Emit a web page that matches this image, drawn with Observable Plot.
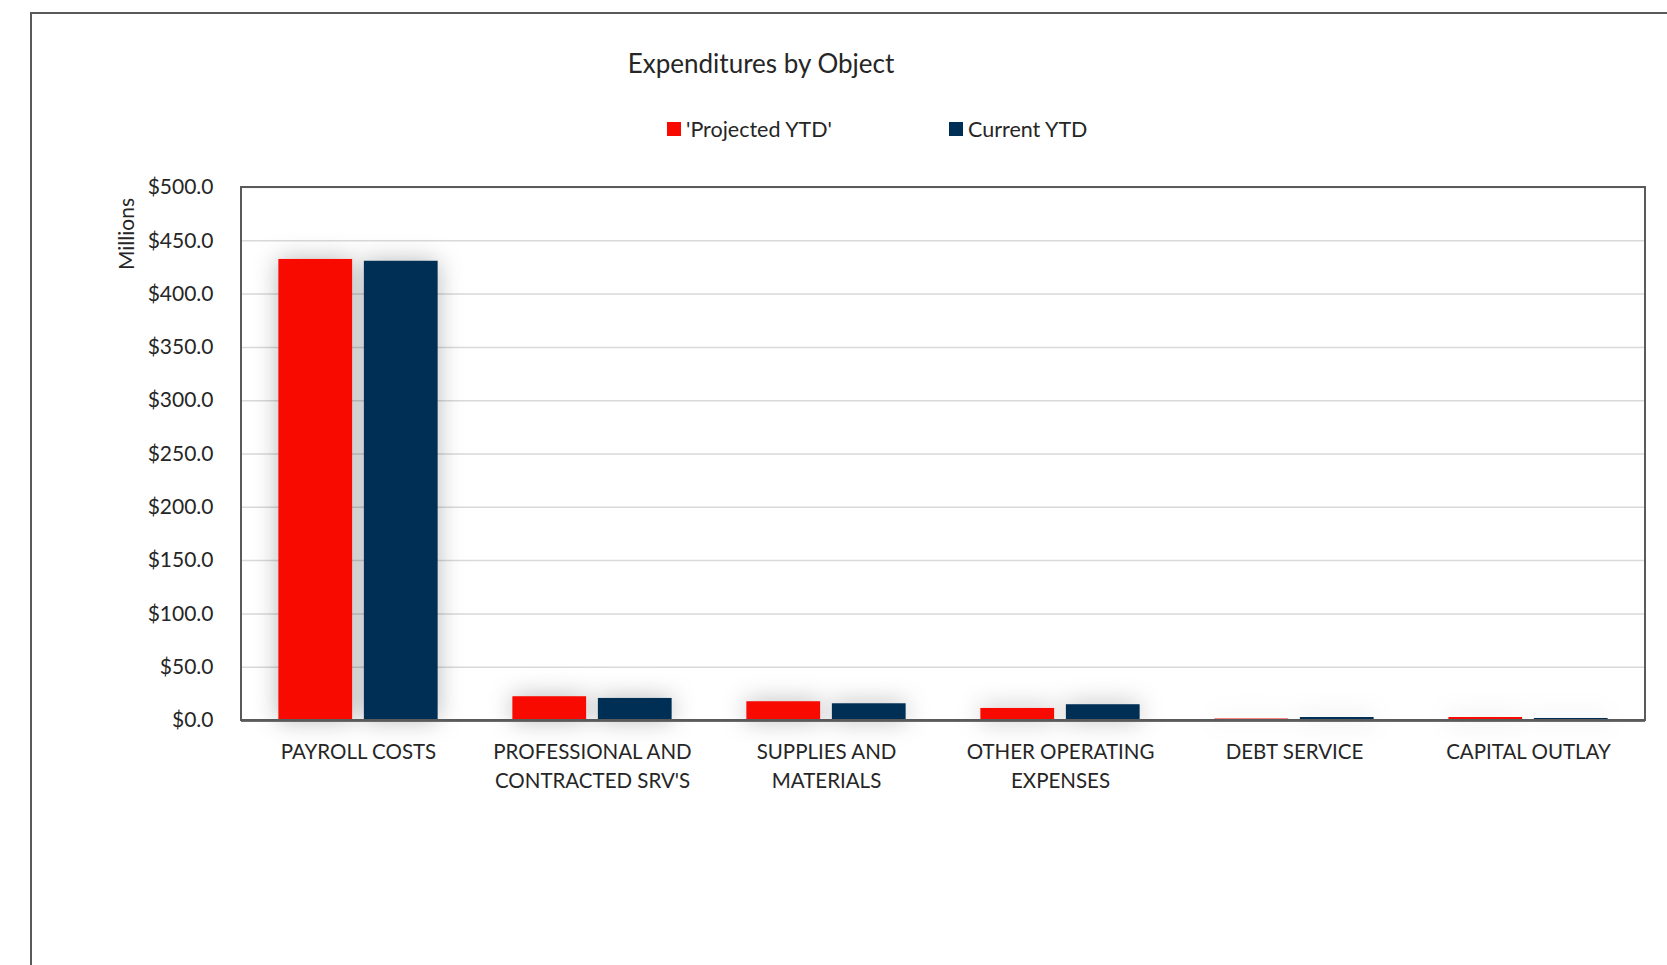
<!DOCTYPE html>
<html>
<head>
<meta charset="utf-8">
<script src="https://cdn.jsdelivr.net/npm/d3@7"></script>
<script src="https://cdn.jsdelivr.net/npm/@observablehq/plot@0.6"></script>
<style>
  html, body { margin: 0; padding: 0; background: #fff; }
  body { width: 1667px; height: 965px; overflow: hidden; position: relative; font-family: Lato, "DejaVu Sans", sans-serif; color: #262626; }
  #outer { position: absolute; left: 30px; top: 12px; width: 1700px; height: 1000px; border: 2px solid #5a5a5a; box-sizing: border-box; }
  #title { position: absolute; left: 0; width: 1522px; top: 47px; text-align: center; font-size: 26px; color: #262626; }
  #legend { position: absolute; top: 116px; left: 0; width: 1667px; height: 26px; font-size: 21.5px; color: #262626; }
  .lg { position: absolute; top: 0; display: flex; align-items: center; height: 26px; }
  .sw { width: 14px; height: 14px; margin-right: 5px; }
  #ylabel { position: absolute; left: 125px; top: 234px; transform: translate(-50%, -50%) rotate(-90deg); font-size: 21px; white-space: nowrap; color: #262626; }
  #chart { position: absolute; left: 0; top: 150px; }
</style>
</head>
<body>
<div id="outer"></div>
<div id="title">Expenditures by Object</div>
<div id="legend"></div>
<div id="ylabel">Millions</div>
<div id="chart"></div>
<script>
const categories = ["PAYROLL COSTS", "PROFESSIONAL AND CONTRACTED SRV'S", "SUPPLIES AND MATERIALS", "OTHER OPERATING EXPENSES", "DEBT SERVICE", "CAPITAL OUTLAY"];
const categoryLabels = ["PAYROLL COSTS", "PROFESSIONAL AND\nCONTRACTED SRV'S", "SUPPLIES AND\nMATERIALS", "OTHER OPERATING\nEXPENSES", "DEBT SERVICE", "CAPITAL OUTLAY"];
const seriesNames = ["'Projected YTD'", "Current YTD"];
const projectedYTD = [432.5, 22.3, 17.6, 11.3, 1.4, 2.8];
const currentYTD = [430.8, 20.7, 15.7, 14.8, 2.8, 1.9];
const seriesColors = ["#f80a00", "#002f55"];
const yTicks = [0, 50, 100, 150, 200, 250, 300, 350, 400, 450, 500];

const data = [];
categories.forEach((c, i) => {
  data.push({category: c, series: seriesNames[0], value: projectedYTD[i]});
  data.push({category: c, series: seriesNames[1], value: currentYTD[i]});
});

// legend
const legend = document.getElementById("legend");
const legendX = [667, 949];
seriesNames.forEach((s, i) => {
  const d = document.createElement("div");
  d.className = "lg";
  d.style.left = legendX[i] + "px";
  d.innerHTML = `<div class="sw" style="background:${seriesColors[i]}"></div><span></span>`;
  d.querySelector("span").textContent = s;
  legend.appendChild(d);
});

const W = 1667, H = 670;
const mL = 241, mR = 22, mT = 37, mB = 100;
const labelMap = new Map(categories.map((c, i) => [c, categoryLabels[i]]));

const plot = Plot.plot({
  width: W,
  height: H,
  marginLeft: mL,
  marginRight: mR,
  marginTop: mT,
  marginBottom: mB,
  style: {fontFamily: "Lato, sans-serif", fontSize: "20.5px", color: "#262626", background: "transparent"},
  fx: {domain: categories, padding: 0, label: null},
  x: {domain: seriesNames, paddingInner: 0.1375, paddingOuter: 0.437, round: false, axis: null},
  y: {domain: [0, 500], label: null},
  color: {domain: seriesNames, range: seriesColors},
  marks: [
    Plot.gridY(yTicks, {stroke: "#d9d9d9", strokeOpacity: 1, strokeWidth: 1.5}),
    Plot.axisY(yTicks, {tickSize: 0, tickPadding: 28, fontSize: 21, tickFormat: d => "$" + d.toFixed(1), label: null}),
    Plot.axisFx({anchor: "bottom", tickSize: 0, tickPadding: 18, lineHeight: 1.4, tickFormat: d => labelMap.get(d), label: null}),
    Plot.barY(data, {fx: "category", x: "series", y: "value", fill: "series"}),
    Plot.ruleY([0], {stroke: "#404040", strokeWidth: 2.5})
  ]
});

document.getElementById("chart").appendChild(plot);

// soft shadow like the original
d3.select(plot).selectAll('g[aria-label="bar"]').style("filter", "drop-shadow(0px 0px 12px rgba(0,0,0,0.28))");

// single frame around the whole plotting area
d3.select(plot).append("rect")
  .attr("x", mL).attr("y", mT)
  .attr("width", W - mL - mR).attr("height", H - mT - mB)
  .attr("fill", "none").attr("stroke", "#5a5a5a").attr("stroke-width", 2);
</script>
</body>
</html>
